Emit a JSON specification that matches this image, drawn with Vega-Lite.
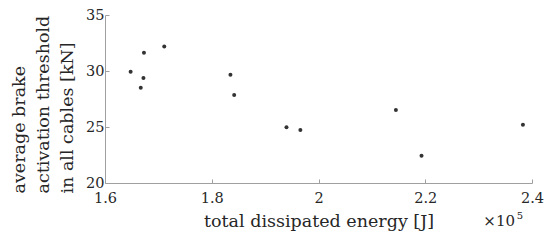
{
  "$schema": "https://vega.github.io/schema/vega-lite/v6.json",
  "width": 427,
  "height": 168,
  "autosize": {"type": "none"},
  "padding": {"left": 105, "top": 15, "right": 18, "bottom": 59},
  "background": "white",
  "config": {
    "view": {"stroke": null},
    "font": "DejaVu Serif",
    "axis": {
      "grid": false,
      "domainColor": "#a0a0a0",
      "tickColor": "#a0a0a0",
      "labelColor": "#262626",
      "titleColor": "#262626",
      "labelFont": "DejaVu Serif",
      "titleFont": "DejaVu Serif",
      "labelFontSize": 14.5,
      "titleFontSize": 17.5,
      "titleFontWeight": "normal"
    }
  },
  "layer": [
    {
      "data": {
        "values": [
          {"energy": 164800, "threshold": 29.94},
          {"energy": 167300, "threshold": 31.62},
          {"energy": 171100, "threshold": 32.18},
          {"energy": 167200, "threshold": 29.38},
          {"energy": 166700, "threshold": 28.51},
          {"energy": 183500, "threshold": 29.67},
          {"energy": 184200, "threshold": 27.85},
          {"energy": 194000, "threshold": 24.98},
          {"energy": 196600, "threshold": 24.74},
          {"energy": 214500, "threshold": 26.51},
          {"energy": 219300, "threshold": 22.44},
          {"energy": 238300, "threshold": 25.19}
        ]
      },
      "mark": {"type": "point", "filled": true, "size": 16, "color": "#333333", "opacity": 1},
      "encoding": {
        "x": {
          "field": "energy",
          "type": "quantitative",
          "scale": {"domain": [160000, 240000], "nice": false, "zero": false},
          "axis": {
            "values": [160000, 180000, 200000, 220000, 240000],
            "labelExpr": "format(datum.value / 100000, '.1~f')",
            "tickSize": -4,
            "labelPadding": 12,
            "labelFlush": false,
            "title": "total dissipated energy [J]",
            "titleBaseline": "alphabetic",
            "titleY": 43
          }
        },
        "y": {
          "field": "threshold",
          "type": "quantitative",
          "scale": {"domain": [20, 35], "nice": false, "zero": false},
          "axis": {
            "values": [20, 25, 30, 35],
            "tickSize": -4,
            "labelPadding": 5,
            "labelFlush": false,
            "title": ["average brake", "activation threshold", "in all cables [kN]"],
            "titleAngle": -90,
            "titleAlign": "left",
            "titleBaseline": "alphabetic",
            "titleLineHeight": 24,
            "titleX": -81,
            "titleY": 178
          }
        }
      }
    },
    {
      "data": {"values": [{"label": "×10", "exponent": "5"}]},
      "mark": {"type": "text", "align": "right", "baseline": "alphabetic", "dx": -17, "dy": 43, "fontSize": 15, "fontWeight": "normal", "color": "#262626", "font": "DejaVu Serif"},
      "encoding": {
        "x": {"datum": 240000},
        "y": {"datum": 20},
        "text": {"field": "label"}
      }
    },
    {
      "data": {"values": [{"label": "×10", "exponent": "5"}]},
      "mark": {"type": "text", "align": "right", "baseline": "alphabetic", "dx": -9, "dy": 36, "fontSize": 10, "fontWeight": "normal", "color": "#262626", "font": "DejaVu Serif"},
      "encoding": {
        "x": {"datum": 240000},
        "y": {"datum": 20},
        "text": {"field": "exponent"}
      }
    }
  ]
}
